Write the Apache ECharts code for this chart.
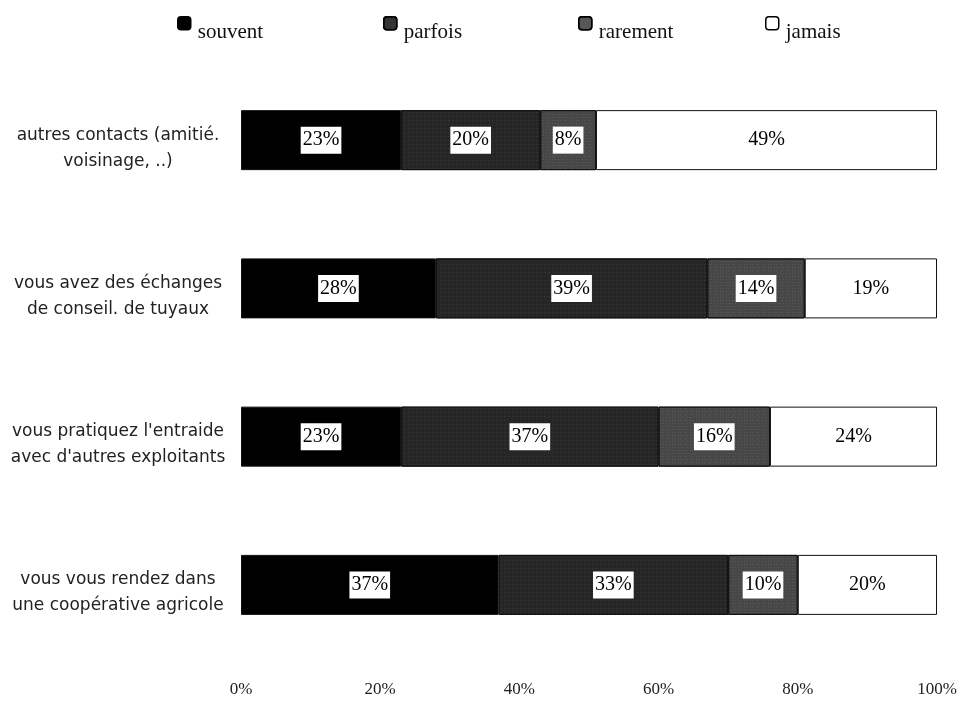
<!DOCTYPE html>
<html>
<head>
<meta charset="utf-8">
<script src="https://cdn.jsdelivr.net/npm/echarts@6/dist/echarts.min.js"></script>
<style>
  html, body { margin: 0; padding: 0; background: #fff; }
  #chart { width: 963px; height: 703px; }
</style>
</head>
<body>
<div id="chart"></div>
<script>
// Survey answers, share of respondents per frequency (percent)
const categories = [
  'autres contacts (amitié.\nvoisinage, ..)',
  'vous avez des échanges\nde conseil. de tuyaux',
  "vous pratiquez l'entraide\navec d'autres exploitants",
  'vous vous rendez dans\nune coopérative agricole'
];
const souvent = [23, 28, 23, 37];
const parfois = [20, 39, 37, 33];
const rarement = [8, 14, 16, 10];
const jamais = [49, 19, 24, 20];
const xTicks = [0, 20, 40, 60, 80, 100];

const serif = '"Liberation Serif", "DejaVu Serif", serif';

const valueLabel = {
  show: true,
  position: 'inside',
  formatter: p => p.value + '%',
  color: '#000',
  fontFamily: serif,
  fontSize: 20,
  backgroundColor: '#fff',
  padding: [4, 2, 3, 2]
};

function seriesOf(name, data, fill, decal) {
  return {
    name: name,
    type: 'bar',
    stack: 'total',
    barWidth: 60,
    data: data,
    label: valueLabel,
    itemStyle: {
      color: fill,
      borderColor: '#111',
      borderWidth: 1,
      decal: decal
    },
    emphasis: { disabled: true }
  };
}

const speckle = {
  symbol: 'rect',
  symbolSize: 0.5,
  color: 'rgba(200,200,200,0.35)',
  dashArrayX: [[1, 3], [2, 2]],
  dashArrayY: [1, 3],
  rotation: 0
};
const speckleDense = {
  symbol: 'rect',
  symbolSize: 0.6,
  color: 'rgba(210,210,210,0.45)',
  dashArrayX: [[1, 2], [1, 1, 1, 3]],
  dashArrayY: [1, 2],
  rotation: 0
};

// Legend entries sit apart; the text is dropped below the icon's line
function legendAt(name, left, fill, border) {
  return {
    data: [name],
    left: left,
    top: 16,
    padding: 0,
    itemWidth: 13,
    itemHeight: 13,
    itemGap: 0,
    icon: 'roundRect',
    selectedMode: false,
    itemStyle: { color: fill, borderColor: border, borderWidth: 1.5 },
    formatter: n => '{t|' + n + '}',
    textStyle: {
      rich: {
        t: {
          fontFamily: serif,
          fontSize: 21,
          color: '#111',
          padding: [18, 0, 0, 2]
        }
      }
    }
  };
}

const chart = echarts.init(document.getElementById('chart'), null, { renderer: 'canvas' });
chart.setOption({
  backgroundColor: '#fff',
  animation: false,
  aria: { enabled: false },
  legend: [
    legendAt('souvent', 177, '#000', '#000'),
    legendAt('parfois', 383, '#333', '#000'),
    legendAt('rarement', 578, '#555', '#000'),
    legendAt('jamais', 765, '#fff', '#000')
  ],
  grid: { left: 241, right: 26, top: 66, bottom: 44, containLabel: false },
  xAxis: {
    type: 'value',
    min: 0,
    max: 100,
    interval: 20,
    axisLine: { show: false },
    axisTick: { show: false },
    splitLine: { show: false },
    axisLabel: {
      margin: 22,
      formatter: v => (xTicks.indexOf(v) >= 0 ? v + '%' : ''),
      fontFamily: serif,
      fontSize: 17,
      color: '#222'
    }
  },
  yAxis: {
    type: 'category',
    data: categories,
    inverse: true,
    axisLine: { show: false },
    axisTick: { show: false },
    axisLabel: {
      margin: 123,
      align: 'center',
      formatter: v => '{s| }\n' + v.split('\n').map(l => '{a|' + l + '}').join('\n'),
      rich: {
        s: { fontSize: 1, lineHeight: 16 },
        a: {
          fontFamily: '"DejaVu Sans", sans-serif',
          fontSize: 17,
          lineHeight: 26,
          color: '#222'
        }
      }
    }
  },
  series: [
    seriesOf('souvent', souvent, '#000'),
    seriesOf('parfois', parfois, '#262626', speckle),
    seriesOf('rarement', rarement, '#474747', speckleDense),
    seriesOf('jamais', jamais, '#fff')
  ]
});
</script>
</body>
</html>
